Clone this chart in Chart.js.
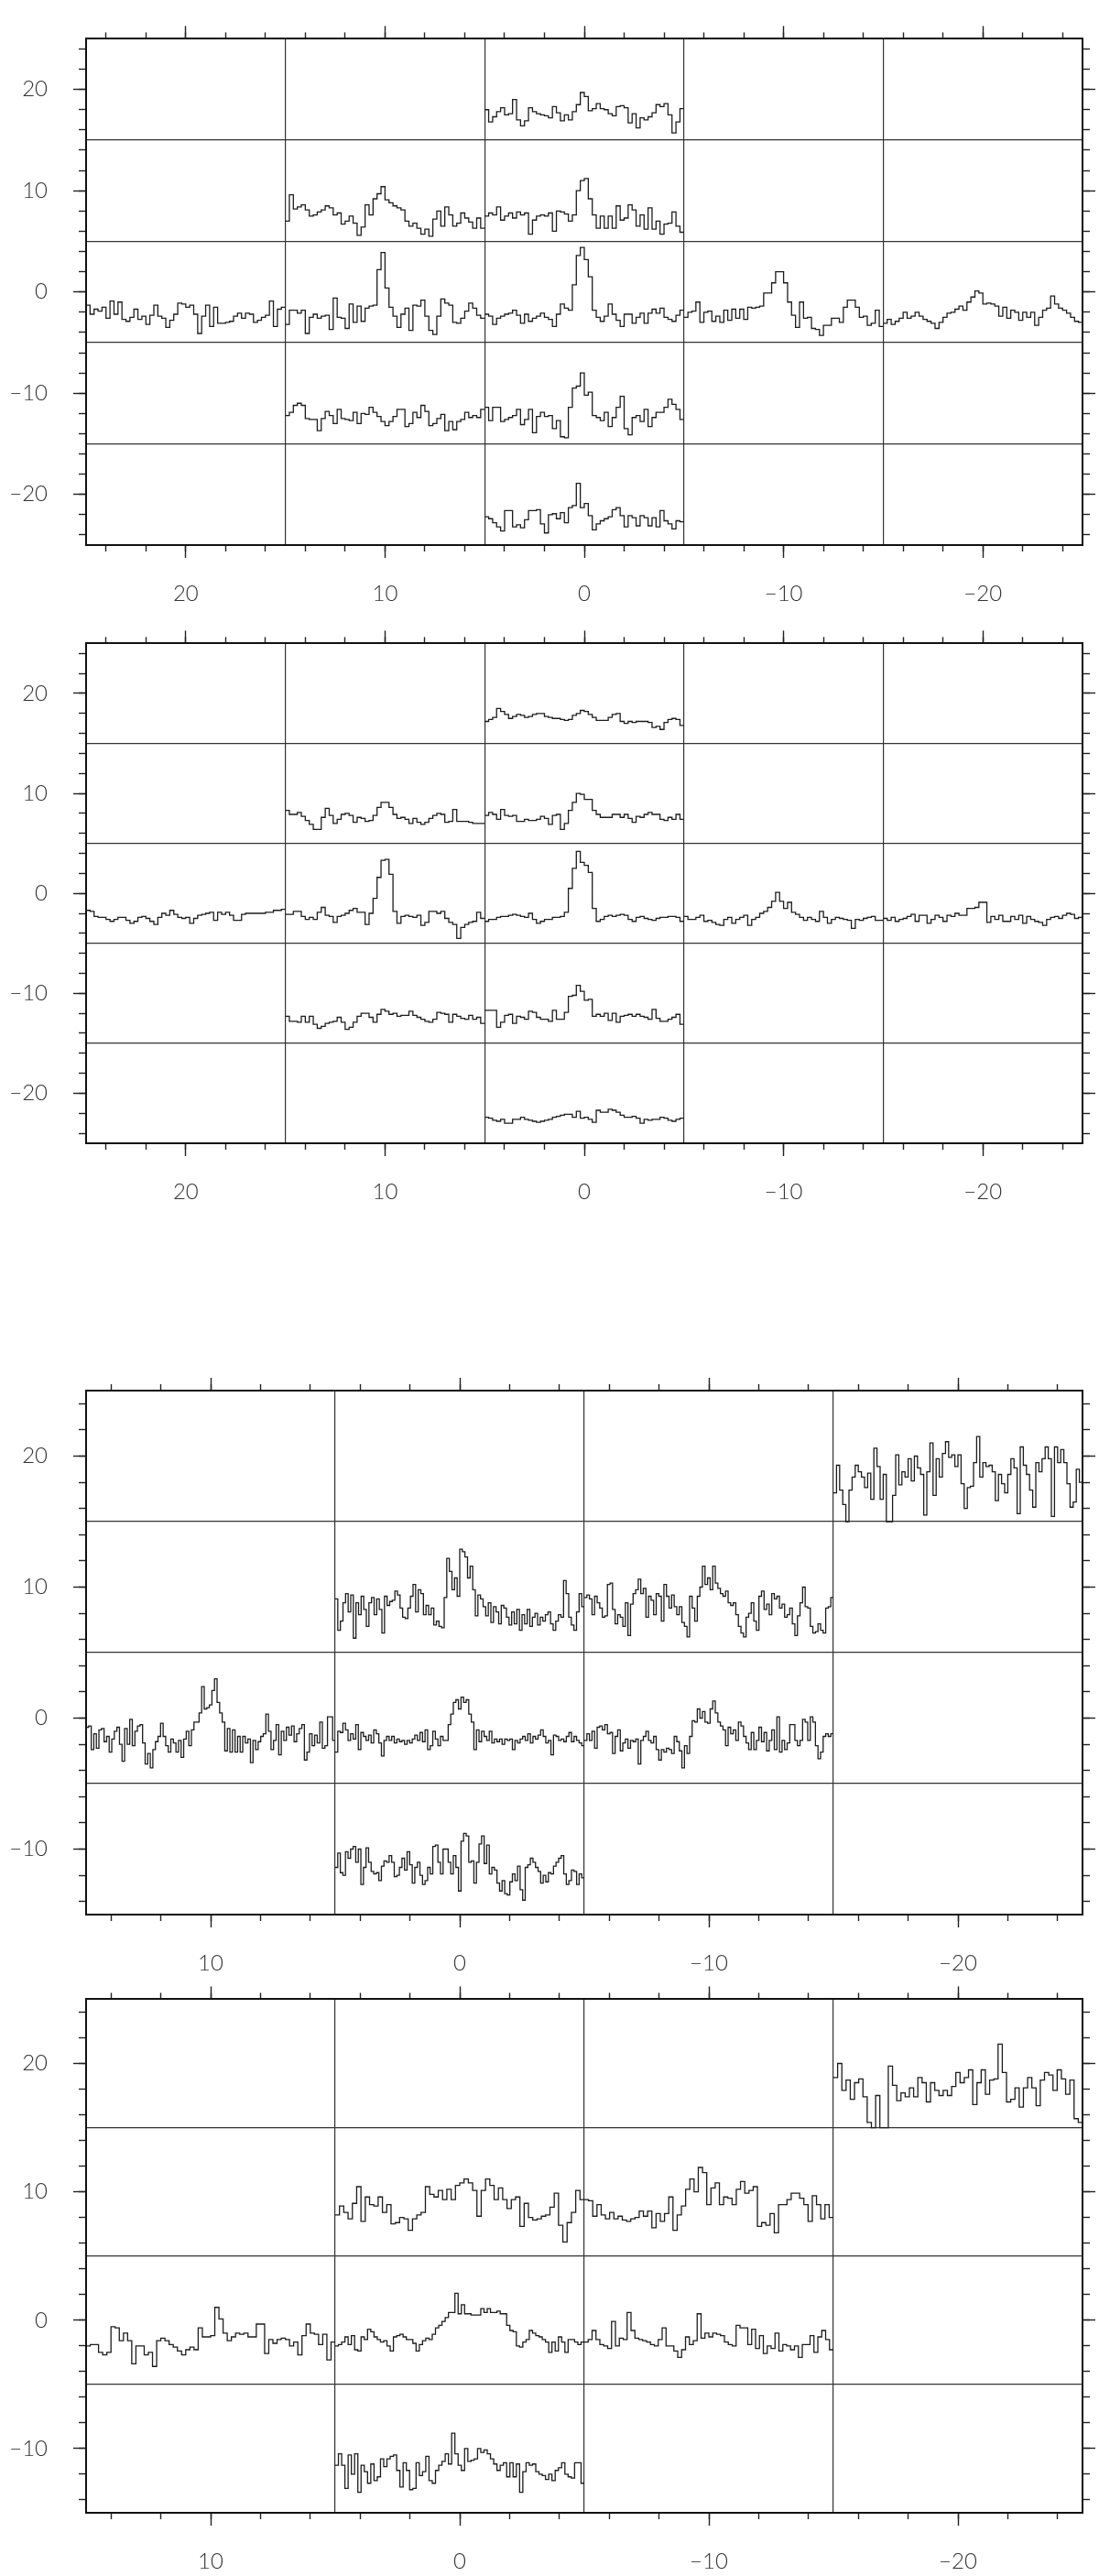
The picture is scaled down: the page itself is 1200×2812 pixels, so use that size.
<!DOCTYPE html>
<html><head><meta charset="utf-8">
<script src="https://cdn.jsdelivr.net/npm/chart.js@4.4.1/dist/chart.umd.min.js"></script>
<style>
html,body{margin:0;padding:0;background:#fff;}
body{width:1200px;height:2812px;position:relative;overflow:hidden;}
canvas{position:absolute;left:0;}
</style></head><body>
<canvas id="c1" width="1200" height="660" style="top:0px"></canvas>
<canvas id="c2" width="1200" height="660" style="top:660px"></canvas>
<canvas id="c3" width="1200" height="840" style="top:1320px"></canvas>
<canvas id="c4" width="1200" height="672" style="top:2140px"></canvas>
<script>
// ---------- tick values ----------
const P12_X_MAJOR = [20,10,0,-10,-20];
const P12_X_MINOR = [24,22,20,18,16,14,12,10,8,6,4,2,0,-2,-4,-6,-8,-10,-12,-14,-16,-18,-20,-22,-24];
const P12_Y_MAJOR = [20,10,0,-10,-20];
const P12_Y_MINOR = [24,22,20,18,16,14,12,10,8,6,4,2,0,-2,-4,-6,-8,-10,-12,-14,-16,-18,-20,-22,-24];
const P12_X_GRID = [15,5,-5,-15];
const P12_Y_GRID = [15,5,-5,-15];
const P34_X_MAJOR = [10,0,-10,-20];
const P34_X_MINOR = [14,12,10,8,6,4,2,0,-2,-4,-6,-8,-10,-12,-14,-16,-18,-20,-22,-24];
const P34_Y_MAJOR = [20,10,0,-10];
const P34_Y_MINOR = [24,22,20,18,16,14,12,10,8,6,4,2,0,-2,-4,-6,-8,-10,-12,-14];
const P34_X_GRID = [5,-5,-15];
const P34_Y_GRID = [15,5,-5];

// ---------- panel 1 spectra ----------
const p1_r20 = [18.0,16.8,17.3,17.8,18.2,17.5,17.6,19.0,17.0,16.4,16.9,18.2,17.8,17.6,17.5,17.4,17.2,18.3,17.7,16.9,17.5,17.0,17.8,18.5,19.7,19.3,17.9,18.1,18.6,18.1,18.0,17.6,17.4,18.3,18.4,18.2,16.7,17.6,16.2,17.2,17.0,17.3,17.7,18.5,18.3,18.6,17.5,15.7,16.8,18.1];
const p1_r10a = [7.0,9.6,8.2,8.4,8.6,8.1,7.5,7.6,7.9,8.1,8.5,8.3,7.6,7.8,6.7,7.0,7.5,6.8,5.6,6.4,8.6,7.6,9.2,9.7,10.4,9.1,8.8,8.5,8.3,8.1,7.0,6.5,6.8,6.3,5.7,6.2,5.5,7.2,8.0,6.5,8.4,7.6,6.5,6.8,7.8,7.3,6.9,6.3,7.3,6.3];
const p1_r10b = [7.5,7.8,7.6,8.4,7.1,7.5,7.8,7.3,7.9,7.6,7.8,5.7,7.1,7.5,7.6,7.5,7.8,6.0,8.0,7.9,7.7,7.0,7.6,10.0,11.0,11.2,9.2,7.6,6.3,7.5,6.3,7.5,6.3,8.5,7.1,7.3,8.6,8.1,6.5,7.6,6.2,8.3,6.2,7.0,5.7,6.7,6.8,7.9,6.5,5.9];
const p1_r0a = [-1.3,-2.2,-1.7,-1.9,-1.5,-2.6,-0.9,-2.2,-1.0,-2.7,-2.9,-2.5,-1.7,-2.7,-2.4,-3.2,-2.3,-1.3,-2.4,-2.6,-3.5,-2.8,-2.2,-1.1,-1.2,-1.5,-1.3,-2.2,-4.1,-2.4,-1.3,-3.4,-1.5,-3.1,-3.1,-3.0,-2.9,-2.4,-2.1,-2.6,-2.1,-2.2,-3.0,-2.8,-2.5,-2.3,-0.9,-3.4,-1.7,-1.5];
const p1_r0b = [-3.2,-1.8,-1.8,-2.1,-1.8,-4.1,-2.5,-2.2,-2.6,-2.4,-2.3,-3.7,-0.6,-2.5,-2.6,-3.6,-1.2,-3.0,-1.4,-2.9,-1.6,-1.4,-1.3,2.2,3.9,0.4,-1.5,-2.4,-3.5,-2.2,-1.6,-3.8,-1.3,-1.4,-0.8,-2.4,-3.8,-4.2,-2.4,-0.7,-1.1,-1.3,-3.0,-3.1,-2.6,-1.9,-1.1,-1.6,-2.3,-2.6];
const p1_r0c = [-2.2,-2.4,-3.2,-2.6,-2.4,-2.2,-2.1,-1.8,-2.3,-3.1,-2.2,-2.9,-2.6,-2.4,-2.1,-2.5,-2.7,-3.4,-2.2,-1.2,-1.6,-1.8,0.7,3.6,4.4,3.2,1.5,-1.8,-2.5,-2.9,-2.4,-1.2,-2.2,-2.8,-3.4,-2.2,-2.2,-3.1,-2.5,-2.1,-3.1,-2.1,-1.7,-2.1,-1.6,-2.5,-2.7,-2.9,-2.3,-1.8];
const p1_r0d = [-2.5,-2.0,-1.9,-1.0,-3.0,-2.0,-1.9,-2.9,-2.4,-3.0,-1.8,-2.8,-1.7,-2.6,-1.7,-2.7,-1.5,-1.6,-1.5,-1.4,-0.1,-0.1,0.9,2.0,2.0,0.9,-1.0,-2.3,-3.5,-1.0,-2.6,-2.5,-3.6,-3.7,-4.3,-3.3,-3.3,-2.6,-2.6,-3.0,-1.5,-0.8,-0.8,-1.5,-2.5,-2.4,-3.3,-3.1,-1.8,-3.4];
const p1_r0e = [-3.1,-2.7,-3.2,-2.9,-2.6,-2.0,-2.6,-2.4,-2.0,-2.4,-2.7,-2.9,-3.1,-3.6,-3.0,-2.5,-2.1,-2.0,-1.7,-1.4,-1.8,-1.0,-0.5,0.1,-0.1,-1.2,-1.1,-1.2,-1.4,-2.4,-1.5,-2.6,-1.8,-2.0,-2.8,-2.0,-2.5,-2.0,-3.3,-2.5,-1.8,-1.6,-0.4,-1.2,-1.6,-1.8,-2.1,-2.5,-2.9,-3.0];
const p1_rm10a = [-12.2,-11.9,-11.2,-11.0,-11.2,-12.5,-12.6,-12.6,-13.7,-12.5,-11.8,-12.2,-13.0,-11.6,-12.5,-12.6,-12.7,-11.9,-13.0,-12.0,-12.1,-11.4,-11.9,-12.3,-12.8,-13.2,-12.8,-12.3,-11.6,-11.6,-13.3,-13.0,-11.9,-12.4,-11.2,-11.8,-13.2,-13.0,-12.5,-12.1,-13.7,-12.8,-13.6,-12.8,-12.6,-11.9,-12.4,-12.2,-12.4,-11.6];
const p1_rm10b = [-11.4,-12.7,-11.4,-11.4,-12.8,-12.6,-12.4,-12.2,-11.6,-13.1,-12.6,-11.6,-13.9,-12.3,-11.9,-12.3,-12.2,-13.5,-12.7,-14.3,-14.4,-11.4,-9.5,-9.3,-8.0,-10.2,-9.9,-12.2,-12.4,-12.7,-11.9,-13.3,-12.4,-11.4,-10.3,-13.5,-14.1,-12.4,-12.2,-12.8,-11.6,-13.3,-12.4,-11.9,-11.9,-11.4,-10.6,-11.1,-11.6,-12.6];
const p1_rm20 = [-22.2,-22.4,-22.8,-23.2,-23.6,-21.6,-21.6,-23.2,-23.0,-23.3,-22.5,-21.6,-21.6,-21.5,-22.9,-23.8,-22.0,-21.9,-22.4,-21.8,-22.8,-21.3,-21.1,-18.9,-21.3,-20.9,-22.1,-23.5,-22.9,-22.6,-22.4,-22.2,-21.5,-21.3,-22.1,-23.2,-22.1,-22.3,-23.1,-22.1,-22.3,-23.1,-22.3,-23.2,-21.6,-22.6,-22.9,-23.4,-22.6,-22.7];

// ---------- panel 2 spectra ----------
const p2_r20 = [17.2,17.4,17.6,18.5,18.2,17.9,17.5,17.7,17.9,17.8,17.6,17.7,17.9,18.0,18.0,17.7,17.6,17.5,17.5,17.4,17.3,17.4,17.8,18.0,18.3,18.2,17.9,17.6,17.3,17.3,17.3,17.6,17.9,18.0,17.2,17.0,17.2,17.1,17.2,17.2,17.2,17.1,16.6,16.7,16.4,17.1,17.4,17.5,17.4,16.8];
const p2_r10a = [8.3,7.9,7.9,8.1,7.7,7.3,6.9,6.4,6.4,7.6,8.5,7.8,7.0,7.4,7.9,8.0,7.8,7.1,7.6,7.5,7.2,7.3,7.8,8.6,9.1,9.1,8.6,7.9,7.5,7.6,7.4,7.0,7.5,7.1,6.9,7.1,7.5,7.8,8.0,7.9,7.1,7.2,8.4,7.2,7.2,7.2,7.1,7.0,7.0,7.0];
const p2_r10b = [7.8,8.1,7.9,7.4,8.4,7.8,7.7,7.8,7.2,7.2,7.4,7.3,7.3,7.4,7.7,7.5,6.9,7.8,7.9,6.4,7.0,8.3,9.1,10.0,9.9,9.4,9.4,8.3,7.9,7.6,7.6,7.6,7.9,7.9,7.6,7.9,7.5,7.1,7.7,7.6,7.9,8.1,7.9,7.9,7.4,7.3,7.6,7.4,7.9,7.4];
const p2_r0a = [-1.7,-1.8,-2.3,-2.4,-2.4,-2.6,-2.8,-2.6,-2.4,-2.4,-2.7,-3.0,-2.8,-2.4,-2.3,-2.5,-2.8,-3.1,-2.4,-2.0,-2.2,-1.7,-2.1,-2.4,-2.5,-2.4,-3.0,-2.5,-2.2,-2.1,-2.0,-1.9,-2.7,-1.9,-2.1,-1.9,-2.2,-2.7,-2.7,-2.1,-2.0,-2.0,-2.0,-2.0,-2.0,-1.9,-1.9,-1.7,-1.7,-1.6];
const p2_r0b = [-2.1,-2.1,-1.8,-1.8,-2.3,-2.6,-2.4,-2.6,-1.9,-1.4,-2.2,-2.3,-2.9,-2.3,-2.2,-2.0,-1.7,-1.5,-1.9,-1.9,-3.1,-2.0,-0.5,1.6,3.3,3.4,1.9,-1.8,-3.0,-2.3,-2.2,-2.3,-2.4,-2.2,-3.2,-2.9,-1.8,-1.8,-2.0,-1.8,-2.5,-2.9,-3.1,-4.5,-3.4,-3.1,-2.9,-2.8,-1.9,-2.5];
const p2_r0c = [-2.8,-2.6,-2.6,-2.4,-2.3,-2.3,-2.2,-2.1,-2.2,-2.3,-2.4,-2.0,-2.6,-3.0,-2.8,-2.6,-2.6,-2.4,-2.4,-2.3,-1.9,0.5,2.5,4.2,3.1,2.8,2.1,-1.5,-2.8,-2.6,-2.3,-2.2,-2.3,-2.2,-2.1,-2.2,-2.6,-2.8,-2.4,-2.3,-2.5,-2.6,-2.7,-2.5,-2.4,-2.4,-2.3,-2.3,-2.4,-2.8];
const p2_r0d = [-2.3,-2.6,-2.6,-2.4,-2.2,-2.8,-2.7,-2.9,-3.1,-3.2,-2.6,-2.4,-3.0,-2.6,-2.4,-2.2,-3.2,-2.6,-2.4,-2.0,-1.8,-1.4,-0.8,0.1,-0.8,-1.5,-0.9,-1.9,-2.1,-2.4,-2.7,-2.4,-2.6,-2.8,-1.8,-2.4,-3.0,-2.6,-2.4,-2.5,-2.6,-2.7,-3.5,-2.6,-2.7,-2.5,-2.4,-2.3,-2.7,-2.7];
const p2_r0e = [-2.5,-2.7,-2.4,-2.8,-2.6,-2.5,-2.3,-2.1,-2.8,-2.2,-2.2,-3.0,-2.6,-2.2,-2.4,-2.8,-2.2,-2.3,-2.0,-2.2,-2.2,-1.5,-1.5,-1.4,-0.9,-0.9,-2.9,-2.3,-2.6,-2.2,-2.8,-2.8,-2.3,-2.6,-2.2,-3.0,-2.3,-2.6,-2.8,-2.9,-3.2,-2.6,-2.4,-2.3,-2.5,-2.2,-2.0,-2.1,-2.5,-2.4];
const p2_rm10a = [-12.3,-12.8,-12.8,-12.9,-12.3,-12.9,-12.3,-13.1,-13.5,-13.3,-13.0,-12.9,-12.8,-12.4,-12.9,-13.6,-13.4,-12.9,-12.3,-12.0,-12.0,-12.4,-12.9,-12.1,-11.6,-11.8,-12.1,-12.0,-12.3,-12.2,-12.2,-11.8,-12.2,-12.4,-12.6,-12.8,-12.9,-12.6,-11.9,-12.0,-12.1,-12.9,-12.1,-12.3,-12.5,-12.6,-12.2,-12.6,-12.4,-13.0];
const p2_rm10b = [-11.7,-11.7,-11.7,-13.4,-12.9,-12.2,-12.1,-13.0,-12.3,-12.4,-12.6,-11.8,-11.9,-12.4,-12.6,-12.6,-12.8,-11.7,-12.6,-12.6,-11.9,-10.3,-10.2,-9.2,-9.8,-10.7,-10.6,-12.3,-12.1,-12.3,-12.0,-12.7,-12.0,-12.9,-12.3,-12.2,-12.1,-12.3,-12.1,-12.3,-12.4,-12.6,-11.6,-12.5,-12.8,-12.8,-12.6,-12.4,-12.1,-13.1];
const p2_rm20 = [-22.4,-22.5,-22.7,-22.8,-22.6,-23.0,-23.0,-22.6,-22.6,-22.4,-22.6,-22.7,-22.8,-22.9,-22.8,-22.7,-22.6,-22.4,-22.3,-22.2,-22.1,-22.1,-22.4,-21.8,-22.5,-22.4,-22.6,-22.9,-21.7,-21.9,-21.9,-21.6,-21.7,-21.9,-22.2,-22.4,-22.4,-22.3,-22.5,-23.0,-22.6,-22.7,-22.6,-22.6,-22.4,-22.5,-22.7,-22.8,-22.6,-22.5];

// ---------- panel 3 spectra ----------
const p3_r20 = [17.2,19.3,17.4,16.3,15.0,17.4,18.4,19.3,18.8,18.4,17.6,18.7,16.7,20.6,19.2,16.7,18.6,15.0,15.0,17.0,20.1,17.8,18.8,18.4,19.8,18.1,20.0,19.1,18.6,15.5,18.8,21.0,17.0,19.8,18.4,20.2,21.1,19.9,20.1,19.2,20.1,17.9,16.0,17.6,17.7,19.5,21.5,18.4,19.5,19.2,19.3,18.8,16.6,18.6,17.9,17.2,18.6,19.8,19.1,15.6,20.7,19.3,18.6,17.4,16.1,19.5,18.8,19.8,20.7,19.8,15.4,20.7,19.5,20.5,19.5,17.9,16.1,16.5,19.0,18.0];
const p3_r10a = [9.1,6.7,7.4,8.8,9.5,8.1,9.4,6.1,8.8,7.9,9.3,8.3,7.0,8.8,9.2,7.9,9.1,8.3,6.5,9.3,8.6,8.9,9.0,9.7,9.4,8.4,7.7,7.6,8.4,9.3,10.2,8.1,9.8,9.5,7.9,8.6,7.9,8.4,7.1,7.4,7.0,6.9,9.2,12.2,11.2,9.8,10.7,9.3,12.9,12.7,12.3,10.7,11.6,9.8,7.8,9.4,9.1,8.5,7.8,8.8,7.3,8.5,8.1,7.2,8.6,8.4,7.7,7.1,8.1,7.2,8.3,6.7,7.9,7.2,8.3,7.0,7.7,8.0,7.1,7.7,7.4,7.9,8.1,7.2,6.7,7.4,7.9,7.7,10.5,9.5,7.7,7.1,6.7,8.1,9.5,8.5];
const p3_r10b = [9.2,9.4,9.1,7.9,9.3,8.8,8.4,7.7,7.8,10.2,10.3,8.3,7.2,7.9,7.7,7.0,8.8,6.3,8.7,9.5,9.8,10.6,9.5,9.9,7.7,9.3,9.0,7.9,9.5,9.3,7.4,10.2,9.3,8.4,9.4,8.5,7.9,8.5,7.3,7.0,6.2,9.3,8.4,7.4,9.3,10.0,11.6,10.2,10.7,9.8,11.6,10.3,9.9,9.5,9.3,9.7,8.8,8.6,8.8,7.9,7.0,6.5,6.2,7.7,8.0,8.8,7.4,6.7,9.3,9.7,8.3,8.7,7.9,9.5,9.1,9.3,8.4,8.7,7.7,7.9,8.4,7.2,6.3,7.8,8.8,10.0,8.5,8.4,7.0,6.5,6.6,7.2,6.7,6.5,8.4,8.5,9.2];
const p3_r0a = [-0.7,-0.6,-2.4,-1.2,-2.3,-0.9,-0.8,-1.8,-1.4,-2.6,-1.6,-1.0,-0.7,-2.0,-3.3,-0.8,-2.0,-0.1,-2.1,-1.0,-0.6,-0.5,-1.9,-3.5,-2.7,-3.8,-2.4,-1.8,-1.4,-0.4,-1.4,-2.1,-2.6,-1.6,-1.9,-2.6,-1.7,-3.0,-1.6,-1.0,-2.1,-0.9,-0.3,-0.3,0.4,2.4,0.7,0.8,1.0,2.1,3.0,1.2,0.4,-0.3,-2.5,-0.8,-2.6,-0.9,-2.6,-1.4,-2.6,-1.4,-1.9,-1.6,-3.4,-1.7,-2.4,-1.8,-1.4,-1.2,0.3,-1.0,-2.4,-1.7,-0.5,-2.8,-1.0,-1.7,-0.7,-1.3,-0.6,-1.8,-1.2,-0.8,-0.5,-3.2,-2.6,-1.2,-2.1,-1.3,-1.9,-0.3,-2.3,-2.1,0.1,0.1,-1.7];
const p3_r0b = [-2.6,-1.0,-1.1,-0.4,-0.9,-1.7,-1.2,-1.6,-0.5,-2.4,-1.1,-1.4,-1.7,-1.3,-1.9,-0.9,-1.2,-1.9,-2.9,-1.7,-1.4,-1.7,-1.4,-1.9,-1.6,-1.8,-1.7,-2.0,-1.7,-1.9,-1.6,-1.3,-1.7,-1.1,-1.8,-0.9,-2.4,-2.1,-1.0,-1.6,-2.1,-1.4,-1.7,-1.7,-0.5,0.3,1.2,1.4,0.7,1.6,1.2,1.4,0.3,-0.3,-2.4,-0.9,-1.8,-1.0,-1.4,-1.7,-1.0,-1.9,-1.6,-1.8,-1.6,-2.0,-1.6,-1.7,-1.6,-2.4,-1.7,-1.9,-1.6,-1.4,-1.7,-1.2,-1.9,-1.4,-1.6,-1.3,-0.9,-1.4,-1.9,-1.7,-2.8,-1.3,-1.4,-1.7,-1.6,-1.8,-1.4,-1.1,-1.8,-1.4,-1.7,-1.9,-2.1];
const p3_r0c = [-1.7,-1.2,-1.7,-1.0,-2.3,-0.7,-0.6,-0.9,-0.5,-1.2,-1.1,-2.7,-1.4,-0.9,-2.5,-1.9,-1.6,-2.3,-1.7,-1.8,-1.6,-3.5,-1.7,-1.4,-1.0,-1.7,-1.9,-1.4,-2.4,-3.2,-2.4,-2.6,-2.3,-2.4,-2.7,-1.4,-1.8,-2.5,-3.8,-2.1,-2.7,-1.4,-0.2,-0.3,0.7,0.0,0.5,-0.3,-0.4,0.7,1.3,0.4,-0.3,-0.6,-0.9,-2.1,-0.7,-1.2,-0.9,-1.7,-0.3,-0.6,-1.4,-1.9,-2.4,-1.1,-2.4,-1.7,-0.7,-1.8,-1.1,-2.5,-1.7,-0.9,-2.4,0.1,-2.6,-1.7,-2.4,-1.9,-0.5,-0.5,-1.7,-2.1,-1.7,-0.1,-0.3,-1.7,0.1,-0.3,-2.1,-3.1,-2.6,-1.4,-1.2,-1.4,-1.2];
const p3_rm10 = [-11.4,-10.3,-11.8,-12.0,-10.2,-10.7,-10.0,-9.8,-11.0,-10.0,-12.7,-11.4,-9.9,-11.0,-11.7,-11.9,-11.8,-12.4,-11.3,-10.9,-11.0,-10.5,-11.0,-12.1,-12.0,-11.4,-10.7,-11.6,-10.2,-11.2,-12.6,-11.4,-11.0,-12.0,-12.7,-12.4,-11.4,-11.9,-9.8,-9.7,-11.0,-11.9,-10.0,-10.0,-11.0,-11.9,-10.5,-11.4,-13.2,-9.4,-8.8,-9.0,-11.0,-10.9,-12.6,-11.0,-9.6,-9.0,-11.1,-9.7,-11.9,-11.4,-11.6,-12.6,-13.2,-12.4,-13.4,-13.5,-12.5,-11.9,-12.4,-11.3,-13.1,-13.9,-11.4,-11.2,-10.7,-11.0,-11.4,-11.7,-12.6,-12.0,-12.5,-11.8,-11.9,-11.3,-11.0,-10.7,-10.5,-11.9,-12.7,-12.4,-11.6,-11.7,-12.7,-11.9,-12.2];

// ---------- panel 4 spectra ----------
const p4_r20 = [18.9,20.0,17.9,18.7,17.2,18.5,18.8,17.4,15.4,15.0,17.5,15.0,15.0,19.8,18.3,17.1,17.7,17.4,18.1,17.4,18.9,18.5,17.0,18.5,17.9,17.5,17.9,17.5,18.2,19.3,18.5,18.9,19.5,16.8,18.5,19.5,17.6,18.7,18.8,21.5,19.3,17.0,17.2,18.1,16.6,18.1,18.9,18.1,16.7,18.7,19.3,19.1,17.9,19.5,18.8,17.6,18.7,15.7,15.4];
const p4_r10a = [8.2,8.9,8.4,7.9,9.1,10.4,7.7,9.6,9.0,8.9,9.6,8.4,9.0,7.5,7.6,8.0,7.9,7.0,7.9,8.2,8.4,10.4,9.8,9.6,10.1,9.4,10.2,9.4,10.5,10.7,11.0,10.7,10.1,8.1,10.1,11.0,10.5,9.4,10.3,9.4,8.7,9.4,9.6,7.3,9.1,8.0,7.8,7.9,8.1,8.2,8.8,9.9,7.4,6.1,7.6,8.4,10.1,9.4];
const p4_r10b = [9.4,9.3,8.1,9.0,8.2,7.9,8.4,7.9,8.1,7.8,7.7,7.9,8.0,8.5,8.1,8.5,7.2,8.3,7.7,8.3,9.6,7.0,8.2,8.9,10.2,11.0,10.0,11.9,11.5,9.0,10.3,10.7,9.0,9.6,9.5,9.0,10.2,10.8,9.9,10.1,10.4,7.3,7.6,7.4,8.3,6.8,9.0,9.0,9.4,9.9,9.9,9.5,9.0,7.7,9.7,9.0,7.9,9.0,8.0];
const p4_r0a = [-2.0,-1.9,-1.9,-2.5,-2.7,-2.5,-0.5,-0.6,-1.6,-1.0,-1.6,-3.4,-2.0,-2.0,-2.7,-2.5,-3.6,-1.6,-1.4,-1.6,-1.9,-2.1,-2.4,-2.7,-2.3,-2.1,-2.3,-0.6,-1.3,-1.3,-1.2,1.0,0.1,-1.0,-1.6,-1.3,-1.0,-1.1,-1.0,-1.3,-1.3,-0.3,-0.3,-2.6,-1.5,-1.8,-1.5,-1.4,-1.5,-2.0,-1.7,-2.7,-1.2,-0.3,-1.0,-1.1,-1.9,-1.1,-3.1,-1.7];
const p4_r0b = [-2.0,-1.9,-1.7,-1.3,-1.9,-1.2,-2.3,-2.4,-1.3,-1.5,-0.7,-0.9,-1.3,-1.5,-1.7,-1.6,-2.0,-2.4,-1.3,-1.2,-1.1,-1.3,-1.5,-1.5,-1.8,-2.4,-1.9,-1.6,-1.4,-1.5,-1.1,-0.6,-0.4,-0.1,0.2,0.6,0.6,2.1,0.5,1.2,0.5,0.5,0.4,0.4,0.4,0.9,0.6,0.9,0.6,0.6,0.7,0.5,0.5,-0.4,-0.8,-0.9,-2.0,-2.1,-1.7,-1.5,-0.8,-1.0,-1.2,-1.3,-1.5,-1.7,-2.5,-1.7,-2.4,-1.3,-1.7,-2.5,-1.5,-1.5,-1.7,-1.9,-1.7];
const p4_r0c = [-1.7,-1.5,-0.8,-1.5,-1.9,-2.0,-2.2,-0.1,-2.0,-1.4,-1.5,0.6,-0.8,-1.4,-1.5,-1.6,-1.7,-1.9,-2.0,-1.5,-0.6,-2.0,-2.0,-2.4,-2.9,-2.3,-1.3,-1.9,-1.6,0.5,-1.4,-1.0,-1.3,-1.0,-1.1,-1.2,-1.7,-1.9,-2.0,-0.4,-0.6,-0.6,-1.9,-0.7,-2.2,-1.2,-2.6,-2.0,-2.2,-1.0,-2.4,-1.9,-2.0,-2.3,-2.0,-2.9,-1.9,-1.9,-1.2,-2.5,-1.3,-0.8,-1.5,-2.3];
const p4_rm10 = [-11.3,-10.4,-11.3,-13.1,-10.5,-12.0,-10.4,-13.4,-11.3,-11.8,-12.7,-11.2,-12.5,-12.2,-10.8,-11.4,-10.8,-10.6,-10.5,-11.7,-13.0,-11.1,-11.7,-13.2,-13.1,-11.1,-12.1,-11.8,-10.6,-12.5,-12.7,-11.7,-11.3,-11.0,-10.4,-11.2,-8.8,-10.4,-11.3,-11.7,-10.0,-11.0,-10.9,-10.8,-10.0,-10.3,-10.1,-10.4,-10.8,-11.2,-11.7,-11.3,-11.1,-12.2,-11.1,-12.2,-11.2,-13.4,-11.8,-11.1,-11.3,-11.2,-11.8,-12.0,-12.1,-12.4,-12.0,-12.5,-11.7,-11.5,-11.1,-12.0,-12.2,-12.3,-11.1,-11.1,-12.7];

// ---------- which cell (left edge, data units) each spectrum occupies ----------
const PANEL1 = [[5,p1_r20],[15,p1_r10a],[5,p1_r10b],[25,p1_r0a],[15,p1_r0b],[5,p1_r0c],[-5,p1_r0d],[-15,p1_r0e],[15,p1_rm10a],[5,p1_rm10b],[5,p1_rm20]];
const PANEL2 = [[5,p2_r20],[15,p2_r10a],[5,p2_r10b],[25,p2_r0a],[15,p2_r0b],[5,p2_r0c],[-5,p2_r0d],[-15,p2_r0e],[15,p2_rm10a],[5,p2_rm10b],[5,p2_rm20]];
const PANEL3 = [[-15,p3_r20],[5,p3_r10a],[-5,p3_r10b],[15,p3_r0a],[5,p3_r0b],[-5,p3_r0c],[5,p3_rm10]];
const PANEL4 = [[-15,p4_r20],[5,p4_r10a],[-5,p4_r10b],[15,p4_r0a],[5,p4_r0b],[-5,p4_r0c],[5,p4_rm10]];
const CELL_WIDTH = 10;

// ---------- helpers ----------
function spectrumPoints(cellLeft, vals) {
  const w = CELL_WIDTH / vals.length;
  const pts = vals.map((v, i) => ({x: cellLeft - i * w, y: v}));
  pts.push({x: cellLeft - CELL_WIDTH, y: vals[vals.length - 1]});
  return pts;
}
const fmt = v => v < 0 ? '\u2212' + Math.abs(v) : String(v);
const setTicks = list => s => { s.ticks = list.map(v => ({value: v})); };
const fixH = h => s => { s.height = h; };
const fixW = w => s => { s.width = w; };
const LABEL_FONT = {family: 'Lato, "DejaVu Sans", sans-serif', size: 24, weight: 300};
const TICK_COL = '#222';
const FRAME = {display: true, color: '#111', width: 2};
const NOBORDER = {display: false};

function tickAxis(pos, weight, list, size, tl, range, labels) {
  const horiz = (pos === 'top' || pos === 'bottom');
  return {
    type: 'linear', position: pos, weight: weight,
    min: range[0], max: range[1], reverse: horiz,
    afterBuildTicks: setTicks(list),
    afterFit: horiz ? fixH(size) : fixW(size),
    ticks: labels ? {display: true, autoSkip: false, maxRotation: 0, minRotation: 0,
                     padding: labels, color: '#333', font: LABEL_FONT, callback: fmt}
                  : {display: false},
    grid: {display: true, drawOnChartArea: false, drawTicks: true, tickLength: tl,
           tickColor: TICK_COL, tickWidth: 1.4},
    border: weight === 2 ? FRAME : NOBORDER
  };
}
function gridAxis(pos, list, range) {
  const horiz = (pos === 'top' || pos === 'bottom');
  return {
    type: 'linear', position: pos, weight: 0,
    min: range[0], max: range[1], reverse: horiz,
    afterBuildTicks: setTicks(list),
    afterFit: horiz ? fixH(0) : fixW(0),
    ticks: {display: false},
    grid: {display: true, drawOnChartArea: true, drawTicks: false, color: '#333', lineWidth: 1.2},
    border: NOBORDER
  };
}

function makePanel(id, spectra, cfg) {
  const xr = cfg.xRange, yr = cfg.yRange;
  new Chart(document.getElementById(id), {
    type: 'line',
    data: {
      datasets: spectra.map(([cell, vals]) => ({
        data: spectrumPoints(cell, vals),
        xAxisID: 'x', yAxisID: 'y',
        stepped: true, borderColor: '#1c1c1c', borderWidth: 1.3,
        pointRadius: 0, fill: false, tension: 0
      }))
    },
    options: {
      responsive: false, animation: false, devicePixelRatio: 1, events: [],
      layout: {padding: 0},
      plugins: {legend: {display: false}, tooltip: {enabled: false}},
      scales: {
        x: tickAxis('bottom', 2, cfg.xMajor, cfg.bottomH, 14, xr, 25),
        xb: tickAxis('bottom', 1, cfg.xMinor, 0, 7, xr, 0),
        xg: gridAxis('bottom', cfg.xGrid, xr),
        xt: tickAxis('top', 2, cfg.xMajor, cfg.topH, 14, xr, 0),
        xtm: tickAxis('top', 1, cfg.xMinor, 0, 7, xr, 0),
        y: tickAxis('left', 2, cfg.yMajor, 94, 14, yr, 28),
        yl: tickAxis('left', 1, cfg.yMinor, 0, 8, yr, 0),
        yg: gridAxis('left', cfg.yGrid, yr),
        yr: tickAxis('right', 2, cfg.yMajor, 18, 14, yr, 0),
        yrm: tickAxis('right', 1, cfg.yMinor, 0, 8, yr, 0)
      }
    }
  });
}

const cfg12 = {xRange: [-25, 25], yRange: [-25, 25], xMajor: P12_X_MAJOR, xMinor: P12_X_MINOR,
  yMajor: P12_Y_MAJOR, yMinor: P12_Y_MINOR, xGrid: P12_X_GRID, yGrid: P12_Y_GRID};
const cfg34 = {xRange: [-25, 15], yRange: [-15, 25], xMajor: P34_X_MAJOR, xMinor: P34_X_MINOR,
  yMajor: P34_Y_MAJOR, yMinor: P34_Y_MINOR, xGrid: P34_X_GRID, yGrid: P34_Y_GRID};

makePanel('c1', PANEL1, Object.assign({}, cfg12, {topH: 23, bottomH: 65}));
makePanel('c2', PANEL2, Object.assign({}, cfg12, {topH: 17, bottomH: 72}));
makePanel('c3', PANEL3, Object.assign({}, cfg34, {topH: 198, bottomH: 70}));
makePanel('c4', PANEL4, Object.assign({}, cfg34, {topH: 32, bottomH: 69}));
</script>
</body></html>
